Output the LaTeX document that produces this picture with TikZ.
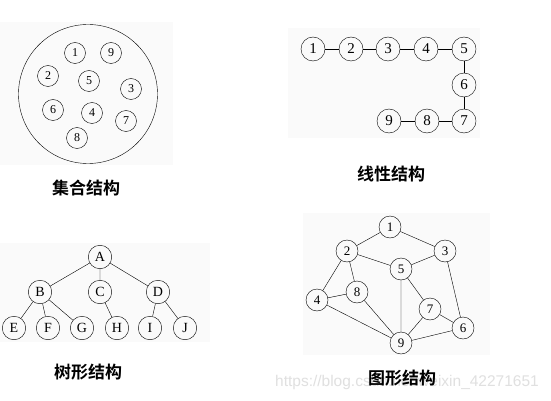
\documentclass[tikz,border=0pt]{standalone}
\usepackage{fontspec}
\setmainfont{Liberation Serif}
\newfontfamily\cjkbold{Noto Sans CJK SC Bold}
\newfontfamily\wmfont{Liberation Sans}
\begin{document}
\begin{tikzpicture}[x=1pt,y=-1pt,
  bgpanel/.style={fill=black!2,draw=none},
  setnode/.style={circle,draw,thin,minimum size=21pt,inner sep=0pt,font=\fontsize{12}{12}\selectfont},
  linnode/.style={circle,draw,thin,minimum size=24pt,inner sep=0pt,font=\fontsize{15}{15}\selectfont},
  treenode/.style={circle,draw,thin,minimum size=23.5pt,inner sep=0pt,font=\fontsize{14}{14}\selectfont},
  graphnode/.style={circle,draw,thin,minimum size=22pt,inner sep=0pt,font=\fontsize{13}{13}\selectfont},
  edge/.style={draw,thin},
  title/.style={font=\cjkbold\fontsize{17}{17}\selectfont,inner sep=0pt},
  watermark/.style={font=\wmfont\fontsize{15.5}{15.5}\selectfont,text=black!12,inner sep=0pt}]
\useasboundingbox (0,0) rectangle (551,401);
\fill[white] (0,0) rectangle (551,401);
% background panels
\path[bgpanel] (0,22) rectangle (173,165);
\path[bgpanel] (288,28) rectangle (480,138);
\path[bgpanel] (0,243) rectangle (210,342);
\path[bgpanel] (303,213) rectangle (490,355);
% set structure
\node[circle,draw,thin,minimum size=139pt,inner sep=0pt] (big) at (88,94) {};
\node[setnode] (s1) at (75,53) {1};
\node[setnode] (s9) at (111,53) {9};
\node[setnode] (s2) at (48,76) {2};
\node[setnode] (s5) at (89,81) {5};
\node[setnode] (s3) at (131,89) {3};
\node[setnode] (s6) at (53,110) {6};
\node[setnode] (s4) at (92,113) {4};
\node[setnode] (s7) at (126,121) {7};
\node[setnode] (s8) at (77,138) {8};
\node[title] (t1) at (86,188) {集合结构};
% linear structure
\node[linnode] (l1) at (313,49) {1};
\node[linnode] (l2) at (351,49) {2};
\node[linnode] (l3) at (388,49) {3};
\node[linnode] (l4) at (426,49) {4};
\node[linnode] (l5) at (464,49) {5};
\node[linnode] (l6) at (464,85) {6};
\node[linnode] (l7) at (464,121) {7};
\node[linnode] (l8) at (427,121) {8};
\node[linnode] (l9) at (389,121) {9};
\draw[edge] (l1)--(l2) (l2)--(l3) (l3)--(l4) (l4)--(l5) (l5)--(l6) (l6)--(l7) (l7)--(l8) (l8)--(l9);
\node[title] (t2) at (391,174) {线性结构};
% tree structure
\node[treenode] (A) at (100,257) {A};
\node[treenode] (B) at (40,292) {B};
\node[treenode] (C) at (100,292) {C};
\node[treenode] (D) at (158,292) {D};
\node[treenode] (E) at (14,328) {E};
\node[treenode] (F) at (48,328) {F};
\node[treenode] (G) at (82,328) {G};
\node[treenode] (H) at (117,328) {H};
\node[treenode] (I) at (150,328) {I};
\node[treenode] (J) at (185,328) {J};
\draw[edge] (A)--(B) (A)--(C) (A)--(D) (B)--(E) (B)--(F) (B)--(G) (C)--(H) (D)--(I) (D)--(J);
\node[title] (t3) at (88,372) {树形结构};
% graph structure
\node[graphnode] (g1) at (390,227) {1};
\node[graphnode] (g2) at (347,251) {2};
\node[graphnode] (g3) at (445,251) {3};
\node[graphnode] (g5) at (401,269) {5};
\node[graphnode] (g8) at (357,292) {8};
\node[graphnode] (g4) at (317,300) {4};
\node[graphnode] (g7) at (430,309) {7};
\node[graphnode] (g6) at (463,328) {6};
\node[graphnode] (g9) at (401,343) {9};
\draw[edge] (g1)--(g2) (g1)--(g3) (g2)--(g5) (g3)--(g5) (g2)--(g4) (g2)--(g8) (g4)--(g8) (g4)--(g9) (g8)--(g9) (g5)--(g9) (g5)--(g7) (g7)--(g9) (g7)--(g6) (g3)--(g6) (g9)--(g6);
\node[watermark] (wm) at (407,382) {https://blog.csdn.net/weixin\_42271651};
\node[title] (t4) at (402,378) {图形结构};
\end{tikzpicture}
\end{document}
